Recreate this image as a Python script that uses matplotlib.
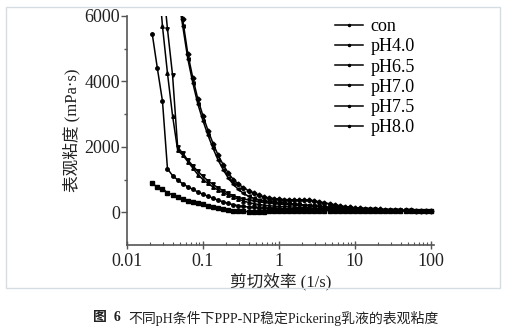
# -*- coding: utf-8 -*-
# Apparent viscosity vs shear rate, PPP-NP Pickering emulsions at different pH

import numpy as np
import matplotlib
matplotlib.use('Agg')
import matplotlib.pyplot as plt
from matplotlib.patches import Rectangle

# shear rate (1/s), shared by every curve
shear = [0.0215, 0.0251, 0.0293, 0.0341, 0.0398, 0.0464, 0.0541, 0.0631, 0.0736, 0.0858,
         0.1, 0.1166, 0.136, 0.158, 0.185, 0.215, 0.251, 0.293, 0.341, 0.398,
         0.464, 0.541, 0.631, 0.736, 0.858, 1.0, 1.166, 1.36, 1.58, 1.85,
         2.15, 2.51, 2.93, 3.41, 3.98, 4.64, 5.41, 6.31, 7.36, 8.58,
         10, 11.66, 13.6, 15.8, 18.5, 21.5, 25.1, 29.3, 34.1, 39.8,
         46.4, 54.1, 63.1, 73.6, 85.8, 100]

# apparent viscosity (mPa·s)
con = [890, 760, 720, 600, 530, 470, 410, 360, 320, 280,
       240, 200, 160, 130, 100, 75, 50, 35, 25, 20,
       15, 15, 20, 25, 30, 35,
       37, 39, 41, 43, 45, 47, 48, 49, 50, 50, 50, 50, 50, 50, 50,
       49, 48, 47, 46, 45, 44, 43, 42, 41, 40, 39, 38, 37, 36, 35]
ph40 = [5450, 4400, 3400, 1330, 1120, 990, 870, 780, 700, 620,
        550, 490, 430, 370, 320, 270, 230, 200, 180, 160,
        150, 140, 130, 125, 120, 115,
        112, 110, 108, 106, 104, 102, 100, 98, 96, 94, 92, 90, 88, 86, 84,
        81, 78, 75, 72, 69, 66, 63, 60, 57, 54, 51, 48, 45, 42, 40]
ph65 = [9500, 7600, 5690, 4250, 2950, 1900, 1750, 1550, 1350, 1150,
        1000, 880, 770, 680, 600, 530, 460, 400, 345, 300,
        265, 240, 220, 200, 190, 180,
        172, 165, 158, 150, 143, 136, 129, 122, 116, 110,
        104, 99, 94, 89, 85, 80, 76, 72, 68, 64,
        61, 58, 55, 52, 49, 46, 44, 42, 40, 38]
ph70 = [12000, 9000, 7200, 5600, 4190, 2000, 1800, 1600, 1420, 1250,
        1100, 960, 850, 750, 660, 580, 510, 450, 410, 375,
        345, 320, 300, 280, 265, 250,
        240, 232, 224, 215, 206, 197, 188, 178, 168, 158,
        148, 138, 129, 121, 113, 106, 99, 93, 87, 81,
        76, 71, 67, 63, 59, 55, 52, 49, 46, 43]
ph75 = [16000, 13000, 11000, 9500, 8200, 7000, 5900, 4850, 4100, 3450,
        2950, 2500, 2100, 1750, 1450, 1200, 1000, 860, 750, 660,
        590, 520, 470, 440, 420, 400,
        390, 385, 382, 380, 378, 370, 350, 320, 290, 260,
        230, 200, 175, 155, 140, 125, 115, 105, 95, 88,
        80, 75, 70, 65, 60, 55, 52, 48, 45, 42]
ph80 = [15000, 12500, 10500, 9000, 7800, 6700, 5700, 4700, 3950, 3300,
        2800, 2350, 1950, 1600, 1300, 1050, 850, 700, 580, 490,
        430, 390, 360, 335, 315, 300,
        285, 270, 255, 240, 225, 210, 195, 180, 165, 150,
        138, 127, 117, 108, 100, 94, 88, 82, 77, 72,
        67, 63, 59, 55, 52, 49, 46, 43, 41, 39]

labels = ['con', 'pH4.0', 'pH6.5', 'pH7.0', 'pH7.5', 'pH8.0']
series = [con, ph40, ph65, ph70, ph75, ph80]
markers = ['s', 'o', '^', 'v', 'D', '<']

serif = ['Liberation Serif', 'Noto Sans CJK SC']
fs = 13

fig = plt.figure(figsize=(5.27, 3.28), dpi=100)
fig.patches.append(Rectangle((6 / 527, 1 - 288 / 328), 494 / 527, 281 / 328,
                             transform=fig.transFigure, fill=False,
                             edgecolor='#d5dde2', linewidth=1.0))

ax = fig.add_axes([127 / 527, 1 - 245 / 328, 307 / 527, 229 / 328])
for y, lab, m in zip(series, labels, markers):
    ax.plot(shear, y, color='black', linewidth=1.1, marker=m, markersize=2.5, label=lab)

ax.set_xscale('log')
ax.set_xlim(0.01, 110)
ax.set_ylim(-1000, 6000)
ax.set_yticks([0, 2000, 4000, 6000])
ax.set_yticks([1000, 3000, 5000], minor=True)
ax.set_xticks([0.01, 0.1, 1, 10, 100])
ax.set_xticklabels(['0.01', '0.1', '1', '10', '100'])

for s in ['top', 'right']:
    ax.spines[s].set_visible(False)
for s in ['left', 'bottom']:
    ax.spines[s].set_color('#555555')
    ax.spines[s].set_linewidth(1.2)

ax.tick_params(axis='y', which='major', direction='out', length=4, width=1, color='#555555', pad=1)
ax.tick_params(axis='y', which='minor', direction='out', length=2.5, width=1, color='#555555')
ax.tick_params(axis='x', which='major', direction='inout', length=6, width=1, color='#555555', pad=3)
ax.tick_params(axis='x', which='minor', direction='in', length=2.5, width=0.8, color='#555555')
for t in ax.get_xticklabels() + ax.get_yticklabels():
    t.set_family(serif)
    t.set_fontsize(fs)
    t.set_color('#222222')

ax.set_ylabel('表观粘度 (mPa·s)', family=serif, fontsize=12, color='#222222', labelpad=3)
ax.set_xlabel('剪切效率 (1/s)', family=serif, fontsize=12, color='#222222', labelpad=2)

leg = ax.legend(loc='upper left', bbox_to_anchor=(335 / 527, 1 - 18 / 328),
                bbox_transform=fig.transFigure, frameon=False, borderpad=0,
                borderaxespad=0, handlelength=1.55, handletextpad=0.4,
                labelspacing=0.18, prop={'family': serif, 'size': fs})
for h in leg.legend_handles:
    h.set_marker('o')
    h.set_markersize(1.5)

fig.text(93 / 527, 1 - 318 / 328, '图  6', family=serif, fontsize=10, fontweight='bold',
         color='#222222', va='center', ha='left')
fig.text(128 / 527, 1 - 318 / 328, '不同pH条件下PPP-NP稳定Pickering乳液的表观粘度',
         family=serif, fontsize=10, color='#222222', va='center', ha='left')

fig.savefig('out.png', dpi=100)
